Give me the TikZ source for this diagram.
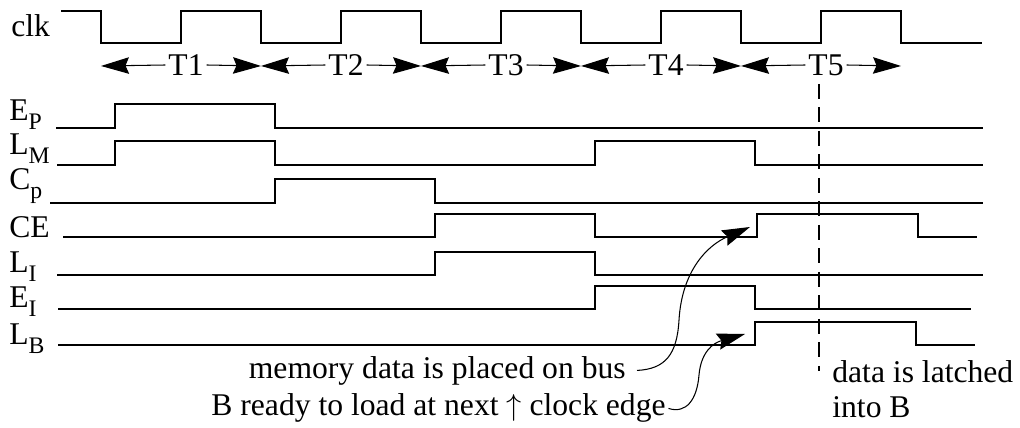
\documentclass[tikz,border=0pt]{standalone}
\usepackage{fontspec}
\setmainfont{Liberation Serif}
\usetikzlibrary{arrows.meta}

\newcommand{\sigsub}[2]{#1\raisebox{-0.28em}{\fontsize{13.5}{15}\selectfont #2}}

\tikzset{
  wave/.style={line width=0.7pt},
  lbl/.style={anchor=base west,inner sep=0pt},
  bigtip/.style={-{Stealth[length=0.56cm,width=0.33cm,inset=0.07cm]}},
  tspan/.style={bigtip,line width=0.6pt},
  note/.style={bigtip,line width=0.6pt},
  latchline/.style={line width=0.6pt,dash pattern=on 0.3cm off 0.17cm}
}

\begin{document}
\begin{tikzpicture}[x=0.02cm,y=-0.02cm,font=\fontsize{18}{22}\selectfont]
\useasboundingbox (0,0) rectangle (1020,428);

% clock
\node[lbl] (clk) at (11,37) {clk};
\draw[wave] (61,11) -- (101,11) foreach \x in {101,261,421,581,741} {
  -- (\x,43) -- (\x+80,43) -- (\x+80,11) -- (\x+160,11) } -- (901,43) -- (982,43);

% T states
\foreach \k in {1,...,5} {
  \pgfmathsetmacro\xl{101+160*(\k-1)}
  \node[inner sep=1.5pt] (T\k) at (\xl+85,65) {T\k};
  \draw[tspan] (T\k.west) -- (\xl,66);
  \draw[tspan] (T\k.east) -- (\xl+160,66);
}

% control signals
\node[lbl] (EP) at (9,121) {\sigsub{E}{P}};
\draw[wave] (56,128) -- (115,128) -- (115,104) -- (275,104) -- (275,128) -- (983,128);

\node[lbl] (LM) at (9,155) {\sigsub{L}{M}};
\draw[wave] (57,165) -- (115,165) -- (115,141) -- (275,141) -- (275,165) -- (595,165)
  -- (595,141) -- (755,141) -- (755,165) -- (983,165);

\node[lbl] (Cp) at (9,190) {\sigsub{C}{p}};
\draw[wave] (50,203) -- (275,203) -- (275,179) -- (435,179) -- (435,203) -- (983,203);

\node[lbl] (CE) at (9,238) {CE};
\draw[wave] (63,237) -- (435,237) -- (435,214) -- (595,214) -- (595,237) -- (757,237)
  -- (757,214) -- (918,214) -- (918,237) -- (977,237);

\node[lbl] (LI) at (9,273) {\sigsub{L}{I}};
\draw[wave] (57,275) -- (435,275) -- (435,252) -- (595,252) -- (595,275) -- (983,275);

\node[lbl] (EI) at (9,308) {\sigsub{E}{I}};
\draw[wave] (58,309) -- (595,309) -- (595,286) -- (755,286) -- (755,309) -- (971,309);

\node[lbl] (LB) at (9,345) {\sigsub{L}{B}};
\draw[wave] (58,345) -- (755,345) -- (755,322) -- (916,322) -- (916,345) -- (975,345);

% latch instant
\coordinate (latchtop) at (819,84);
\coordinate (latchbot) at (819,371);
\draw[latchline] (latchtop) -- (latchbot);
\node[lbl] (latch1) at (832,382) {data is latched};
\node[lbl] (latch2) at (832,418) {into B};

% notes
\node[inner sep=0pt,anchor=base east] (memnote) at (626,378) {memory data is placed on bus};
\node[inner sep=0pt,anchor=base east] (rdynote) at (666,416) {B ready to load at next $\uparrow$ clock edge};
\coordinate (cetip) at (750,227);
\coordinate (lbtip) at (745,334);
\draw[note] ([xshift=0.22cm]memnote.east) .. controls (665,369) and (677,355) .. (679,320)
  .. controls (682,270) and (708,245) .. (cetip);
\draw[note] ([xshift=0.05cm]rdynote.east) .. controls (686,414) and (697,400) .. (699,375)
  .. controls (701,352) and (713,343) .. (lbtip);

\end{tikzpicture}
\end{document}
